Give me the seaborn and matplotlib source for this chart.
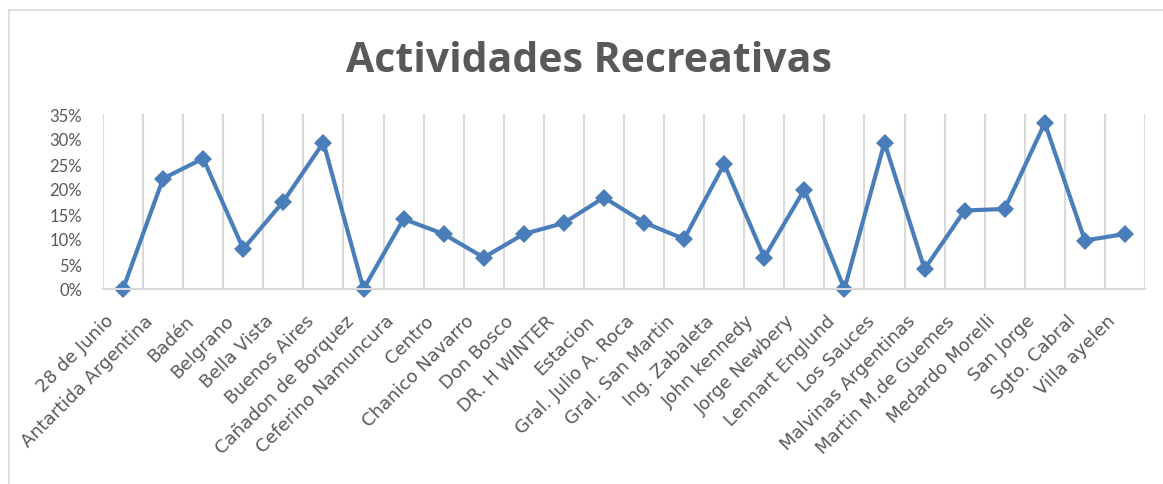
import matplotlib
matplotlib.use("Agg")
import matplotlib.pyplot as plt
import seaborn as sns
import pandas as pd
from matplotlib.patches import Rectangle
from matplotlib.transforms import ScaledTranslation
from matplotlib.font_manager import FontProperties

barrios = ["28 de Junio", "Antartida Argentina", "Badén", "Belgrano", "Bella Vista",
           "Buenos Aires", "Cañadon de Borquez", "Ceferino Namuncura", "Centro",
           "Chanico Navarro", "Don Bosco", "DR. H WINTER", "Estacion",
           "Gral. Julio A. Roca", "Gral. San Martin", "Ing. Zabaleta", "John kennedy",
           "Jorge Newbery", "Lennart Englund", "Los Sauces", "Malvinas Argentinas",
           "Martin M.de Guemes", "Medardo Morelli", "San Jorge", "Sgto. Cabral",
           "Villa ayelen"]
valores = [0.0, 22.1, 26.1, 8.0, 17.5, 29.3, 0.0, 14.0, 11.0, 6.3, 11.0, 13.2, 18.3,
           13.3, 10.0, 25.0, 6.3, 19.9, 0.0, 29.3, 4.0, 15.7, 16.0, 33.2, 9.7, 11.0]

titulo = "Actividades Recreativas"
yticks = [0, 5, 10, 15, 20, 25, 30, 35]

df = pd.DataFrame({"barrio": barrios, "valor": valores})

sns.set_theme(style="white")
plt.rcParams["font.family"] = ["DejaVu Sans"]

W, H = 1163, 485
fig = plt.figure(figsize=(W / 100, H / 100), dpi=100)
ax = fig.add_axes([103 / W, 1 - 290 / H, 1042 / W, 175 / H])

line_color = "#4a7ebb"
text_color = "#595959"
grid_color = "#d9d9d9"

sns.pointplot(data=df, x="barrio", y="valor", ax=ax, color=line_color,
              markers="D", linestyles="-", errorbar=None, markersize=9.5,
              linewidth=3, native_scale=False)
for ln in ax.lines:
    ln.set_clip_on(False)
    ln.set_markeredgewidth(0)

n = len(barrios)
ax.set_xlim(-0.5, n - 0.5)
ax.set_ylim(0, 35)

for i in range(n + 1):
    ax.axvline(i - 0.5, color=grid_color, lw=1.5, zorder=0)

for s in ["top", "right", "left"]:
    ax.spines[s].set_visible(False)
ax.spines["bottom"].set_color(grid_color)
ax.spines["bottom"].set_linewidth(1.5)

ax.set_xlabel("")
ax.set_ylabel("")
ax.tick_params(axis="y", length=0, pad=15, labelcolor=text_color)
ax.tick_params(axis="x", length=0, pad=16, labelcolor=text_color)

ax.set_xticks(range(n))
ax.set_xticklabels(barrios, rotation=45, ha="right", va="top",
                   fontproperties=FontProperties(family="DejaVu Sans", size=13))
shift = ScaledTranslation(-6 / 100, 0, fig.dpi_scale_trans)
for lab in ax.get_xticklabels():
    lab.set_transform(lab.get_transform() + shift)
ax.set_yticks(yticks)
ax.set_yticklabels([f"{v}%" for v in yticks],
                   fontproperties=FontProperties(family="Lato", size=12))

fig.text(589.5 / W, 1 - 71.7 / H, titulo, ha="center", va="baseline",
         fontproperties=FontProperties(family="Open Sans", weight="bold", size=29.5),
         color=text_color)

fig.patches.append(Rectangle((9 / W, -0.1), 1.2, 1 - 11 / H + 0.1,
                             transform=fig.transFigure, fill=False,
                             edgecolor=grid_color, lw=1.2))

fig.savefig("out.png", dpi=100)
